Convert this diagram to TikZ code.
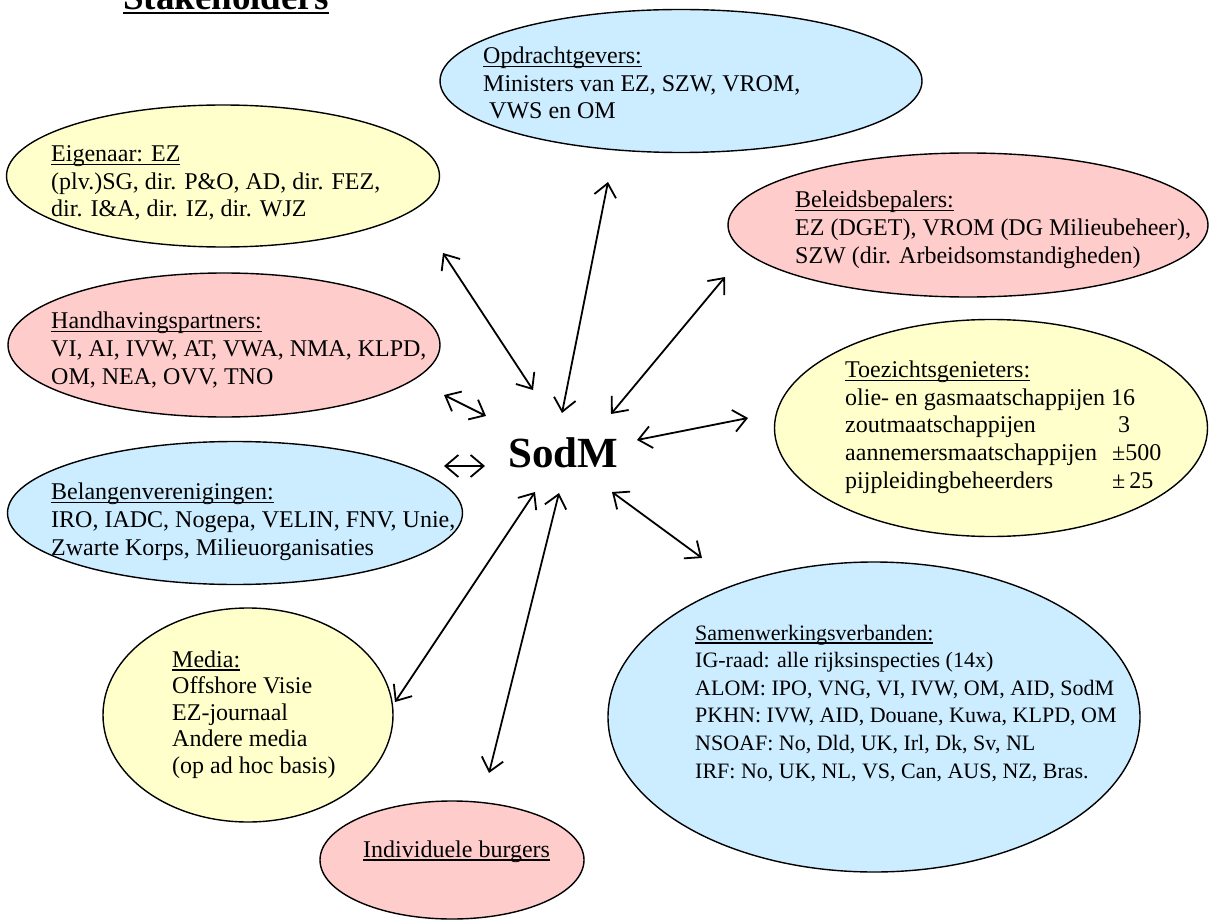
\documentclass[tikz,border=0pt]{standalone}
\usepackage{fontspec}
\setmainfont{Liberation Serif}
\usetikzlibrary{shapes.geometric,arrows.meta}
\newsavebox\ulbox
\newcommand{\uln}[1]{\sbox\ulbox{#1}\rlap{\rule[-3.6pt]{\wd\ulbox}{1.3pt}}\usebox\ulbox}
\newcommand{\ulthick}[1]{\sbox\ulbox{#1}\rlap{\rule[-4.2pt]{\wd\ulbox}{2.6pt}}\usebox\ulbox}
\definecolor{cyel}{HTML}{FFFFCC}
\definecolor{cpink}{HTML}{FFCCCC}
\definecolor{cblue}{HTML}{CCECFF}
\tikzset{
  bubble/.style={ellipse, draw=black, line width=1.4pt, inner sep=0pt},
  txt/.style={anchor=base west, inner sep=0pt, align=left, font=\fontsize{24}{27.6}\selectfont},
  link/.style={{Straight Barb[length=13pt,width=22pt]}-{Straight Barb[length=13pt,width=22pt]}, line width=1.8pt}
}
\begin{document}
\begin{tikzpicture}[x=1pt,y=-1pt]
\clip (0,0) rectangle (1210,920);
\fill[white] (0,0) rectangle (1210,920);
% title
\node[anchor=base west, inner sep=0pt, font=\bfseries\fontsize{37}{44}\selectfont] (title) at (123,10) {\ulthick{Stakeholders}};
% ellipses
\node[bubble, fill=cyel,  minimum width=433pt, minimum height=142pt] (eig)  at (223,176) {};
\node[bubble, fill=cpink, minimum width=432pt, minimum height=144pt] (hand) at (224,345) {};
\node[bubble, fill=cblue, minimum width=455pt, minimum height=143pt] (bel)  at (235,513) {};
\node[bubble, fill=cyel,  minimum width=290pt, minimum height=214pt] (med)  at (248,715) {};
\node[bubble, fill=cpink, minimum width=264pt, minimum height=118pt] (ind)  at (452,860) {};
\node[bubble, fill=cblue, minimum width=482pt, minimum height=143pt] (opd)  at (681,81) {};
\node[bubble, fill=cpink, minimum width=480pt, minimum height=144pt] (beleid) at (968,225) {};
\node[bubble, fill=cyel,  minimum width=433pt, minimum height=217pt] (toez) at (991,428) {};
\node[bubble, fill=cblue, minimum width=532pt, minimum height=310pt] (samen) at (874,717) {};
% texts (anchor = baseline of last line)
\node[txt] (teig) at (51,217) {\uln{Eigenaar: EZ}\\(plv.)SG, dir. P\&O, AD, dir. FEZ,\\dir. I\&A, dir. IZ, dir. WJZ};
\node[txt] (thand) at (51,384) {\uln{Handhavingspartners:}\\VI, AI, IVW, AT, VWA, NMA, KLPD,\\OM, NEA, OVV, TNO};
\node[txt] (tbel) at (51,555) {\uln{Belangenverenigingen:}\\IRO, IADC, Nogepa, VELIN, FNV, Unie,\\Zwarte Korps, Milieuorganisaties};
\node[txt, font=\fontsize{24}{26.5}\selectfont] (tmed) at (172,773) {\uln{Media:}\\Offshore Visie\\EZ-journaal\\Andere media\\(op ad hoc basis)};
\node[txt] (tind) at (363,857) {\uln{Individuele burgers}};
\node[txt] (topd) at (483,119) {\uln{Opdrachtgevers:}\\Ministers van EZ, SZW, VROM,\\\hspace*{6pt}VWS en OM};
\node[txt] (tbeleid) at (795,263) {\uln{Beleidsbepalers:}\\EZ (DGET), VROM (DG Milieubeheer),\\SZW (dir. Arbeidsomstandigheden)};
\node[txt] (ttoez) at (845,488) {\uln{Toezichtsgenieters:}\\
  olie- en gasmaatschappijen 16\\
  \makebox[273pt][l]{zoutmaatschappijen}3\\
  \makebox[267pt][l]{aannemersmaatschappijen}±500\\
  \makebox[267pt][l]{pijpleidingbeheerders}±\,25};
\node[txt, font=\fontsize{22}{27.6}\selectfont] (tsamen) at (695,778) {\uln{Samenwerkingsverbanden:}\\IG-raad: alle rijksinspecties (14x)\\ALOM: IPO, VNG, VI, IVW, OM, AID, SodM\\PKHN: IVW, AID, Douane, Kuwa, KLPD, OM\\NSOAF: No, Dld, UK, Irl, Dk, Sv, NL\\IRF: No, UK, NL, VS, Can, AUS, NZ, Bras.};
% centre
\node[anchor=base west, inner sep=0pt, font=\bfseries\fontsize{43}{50}\selectfont] (sodm) at (508,467) {SodM};
% arrow end points
\coordinate (a1) at (443,253); \coordinate (a2) at (533,390);
\coordinate (b1) at (608,182); \coordinate (b2) at (562,413);
\coordinate (c1) at (725,277); \coordinate (c2) at (611,414);
\coordinate (d1) at (444,395); \coordinate (d2) at (486,416);
\coordinate (e1) at (444,466); \coordinate (e2) at (485,466);
\coordinate (f1) at (637,440); \coordinate (f2) at (748,418);
\coordinate (g1) at (612,492); \coordinate (g2) at (702,558);
\coordinate (h1) at (535,492); \coordinate (h2) at (395,702);
\coordinate (i1) at (559,493); \coordinate (i2) at (489,773);
\draw[link] (a1) -- (a2);
\draw[link] (b1) -- (b2);
\draw[link] (c1) -- (c2);
\draw[link] (d1) -- (d2);
\draw[link] (e1) -- (e2);
\draw[link] (f1) -- (f2);
\draw[link] (g1) -- (g2);
\draw[link] (h1) -- (h2);
\draw[link] (i1) -- (i2);
\end{tikzpicture}
\end{document}
